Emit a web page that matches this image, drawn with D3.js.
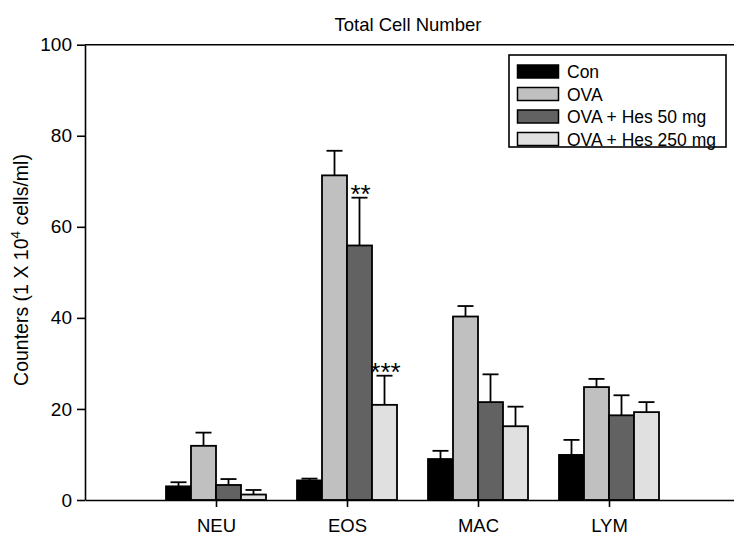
<!DOCTYPE html>
<html lang="en">
<head>
<meta charset="UTF-8">
<title>Total Cell Number</title>
<style>
  html, body { margin: 0; padding: 0; background: #fff; overflow: hidden; }
  svg { display: block; font-family: "Liberation Sans", Arial, Helvetica, sans-serif; }
</style>
</head>
<body>
<svg id="chart" width="734" height="535"></svg>
<script src="https://cdn.jsdelivr.net/npm/d3@7"></script>
<script>
// data
const categories = ["NEU", "EOS", "MAC", "LYM"];
const series = ["Con", "OVA", "OVA + Hes 50 mg", "OVA + Hes 250 mg"];
const conMean = [3.0, 4.3, 9.0, 9.9];
const conErr = [0.9, 0.4, 1.8, 3.3];
const ovaMean = [11.9, 71.3, 40.3, 24.8];
const ovaErr = [2.9, 5.4, 2.3, 1.8];
const hes50Mean = [3.3, 55.9, 21.5, 18.6];
const hes50Err = [1.3, 10.5, 6.1, 4.4];
const hes250Mean = [1.2, 20.9, 16.2, 19.3];
const hes250Err = [1.0, 6.4, 4.3, 2.2];
const hes50Sig = ["", "**", "", ""];
const hes250Sig = ["", "***", "", ""];
const yTicks = [0, 20, 40, 60, 80, 100];

const means = [conMean, ovaMean, hes50Mean, hes250Mean];
const errs = [conErr, ovaErr, hes50Err, hes250Err];
const sigs = [[], [], hes50Sig, hes250Sig];
const colors = ["#000000", "#c0c0c0", "#626262", "#e0e0e0"];

// flat table for drawing
const rows = [];
series.forEach((s, si) => {
  categories.forEach((c, ci) => {
    rows.push({ s, si, c, ci, v: means[si][ci], e: errs[si][ci], sig: sigs[si][ci] || "" });
  });
});

const svg = d3.select("#chart");

// x: category index 1..4 on a linear axis that runs off the right edge
const x = d3.scaleLinear().domain([0, 5]).range([85, 740]);
const y = d3.scaleLinear().domain([0, 100]).range([500, 44.7]);
const inner = d3.scaleBand().domain(series).range([-50, 50]);

// title
svg.append("text")
  .attr("x", 408).attr("y", 31)
  .attr("text-anchor", "middle")
  .attr("font-size", 18.5)
  .text("Total Cell Number");

// top frame line
svg.append("line")
  .attr("x1", x(0)).attr("x2", x(5))
  .attr("y1", y(100)).attr("y2", y(100))
  .attr("stroke", "#000").attr("stroke-width", 1.6);

// bars
svg.append("g").selectAll("rect")
  .data(rows)
  .join("rect")
  .attr("x", d => x(d.ci + 1) + inner(d.s))
  .attr("y", d => y(d.v))
  .attr("width", inner.bandwidth())
  .attr("height", d => y(0) - y(d.v))
  .attr("fill", d => colors[d.si])
  .attr("stroke", "#000")
  .attr("stroke-width", 1.8);

// error bars (upper only)
const eb = svg.append("g").attr("stroke", "#000").attr("stroke-width", 1.8);
eb.selectAll("line.v")
  .data(rows)
  .join("line")
  .attr("class", "v")
  .attr("x1", d => x(d.ci + 1) + inner(d.s) + inner.bandwidth() / 2)
  .attr("x2", d => x(d.ci + 1) + inner(d.s) + inner.bandwidth() / 2)
  .attr("y1", d => y(d.v))
  .attr("y2", d => y(d.v + d.e));
eb.selectAll("line.cap")
  .data(rows)
  .join("line")
  .attr("class", "cap")
  .attr("x1", d => x(d.ci + 1) + inner(d.s) + inner.bandwidth() / 2 - 8)
  .attr("x2", d => x(d.ci + 1) + inner(d.s) + inner.bandwidth() / 2 + 8)
  .attr("y1", d => y(d.v + d.e))
  .attr("y2", d => y(d.v + d.e));

// significance stars
svg.append("g").selectAll("text")
  .data(rows.filter(d => d.sig))
  .join("text")
  .attr("x", d => x(d.ci + 1) + inner(d.s) + inner.bandwidth() / 2 + 1)
  .attr("y", d => y(d.v + d.e) + 5)
  .attr("text-anchor", "middle")
  .attr("font-size", 26)
  .text(d => d.sig);

// axes
const xAxis = d3.axisBottom(x)
  .tickValues(categories.map((c, i) => i + 1))
  .tickFormat(i => categories[i - 1])
  .tickSizeInner(7).tickSizeOuter(0).tickPadding(12);
const gx = svg.append("g").attr("transform", `translate(0,${y(0)})`).call(xAxis);
gx.selectAll("text").attr("font-size", 18.5).attr("fill", "#000");

const yAxis = d3.axisLeft(y)
  .tickValues(yTicks)
  .tickSizeInner(8).tickSizeOuter(0).tickPadding(5);
const gy = svg.append("g").attr("transform", `translate(${x(0)},0)`).call(yAxis);
gy.selectAll("text").attr("font-size", 19).attr("fill", "#000");

[gx, gy].forEach(g => {
  g.select(".domain").attr("stroke", "#000").attr("stroke-width", 1.6);
  g.selectAll(".tick line").attr("stroke", "#000").attr("stroke-width", 1.6);
  g.attr("font-family", null);
});

// y label
const yl = svg.append("text")
  .attr("transform", "rotate(-90)")
  .attr("x", -270).attr("y", 27.5)
  .attr("text-anchor", "middle")
  .attr("font-size", 19.5);
yl.append("tspan").text("Counters (1 X 10");
yl.append("tspan").attr("font-size", 13.5).attr("dy", -7.5).text("4");
yl.append("tspan").attr("dy", 7.5).text(" cells/ml)");

// legend
const lg = svg.append("g");
lg.append("rect")
  .attr("x", 509).attr("y", 55).attr("width", 217).attr("height", 92)
  .attr("fill", "#fff").attr("stroke", "#000").attr("stroke-width", 1.6);
const item = lg.selectAll("g.item")
  .data(series)
  .join("g")
  .attr("class", "item")
  .attr("transform", (d, i) => `translate(517.5,${65 + i * 22.5})`);
item.append("rect")
  .attr("width", 41).attr("height", 13)
  .attr("fill", (d, i) => colors[i])
  .attr("stroke", "#000").attr("stroke-width", 1.5);
item.append("text")
  .attr("x", 49.5).attr("y", 13)
  .attr("font-size", 17.5)
  .text(d => d);
</script>
</body>
</html>
